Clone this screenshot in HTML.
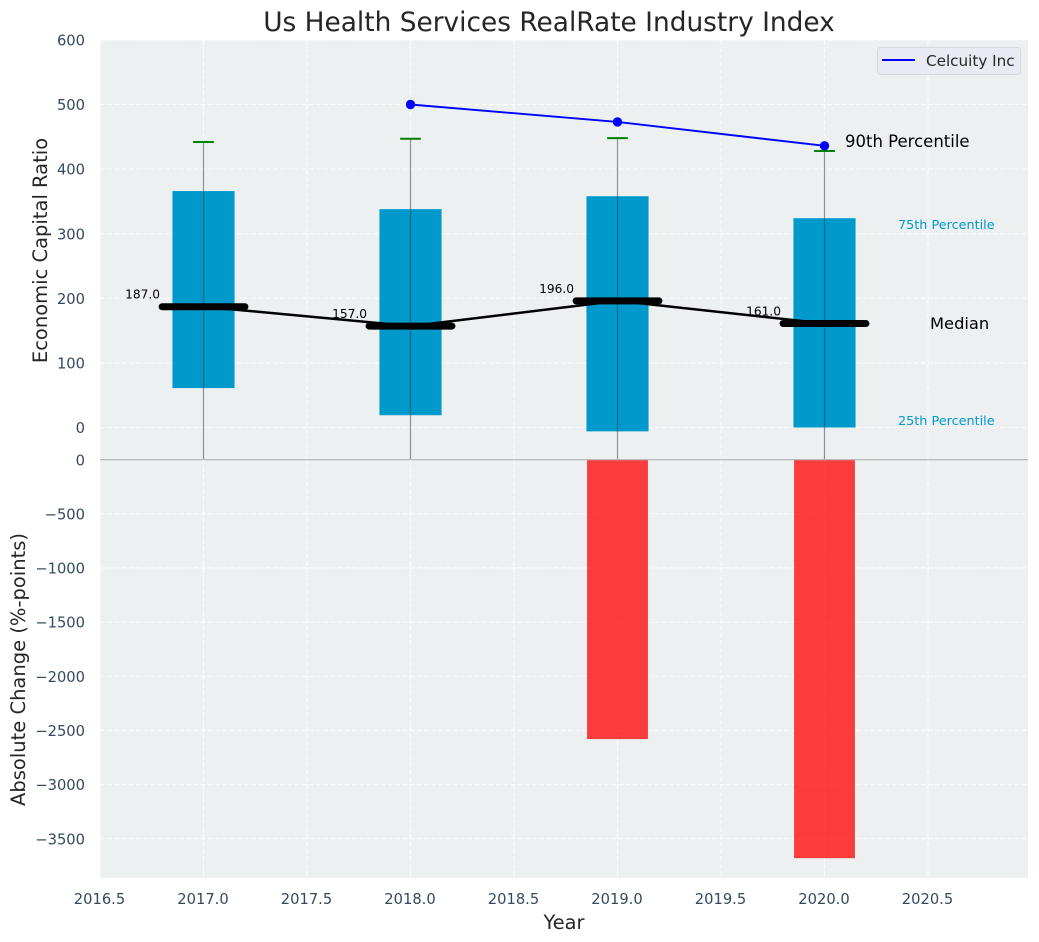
<!DOCTYPE html>
<html lang="en">
<head>
<meta charset="utf-8">
<title>Us Health Services RealRate Industry Index</title>
<style>
html,body{margin:0;padding:0;background:#fff;}
svg{display:block;font-family:"DejaVu Sans","Liberation Sans",sans-serif;}
</style>
</head>
<body>
<svg id="chart" xmlns="http://www.w3.org/2000/svg" width="1039" height="942" viewBox="0 0 1039 942"></svg>
<script>
const years = [2017, 2018, 2019, 2020];
const p90 = [442, 447, 448, 428];
const p75 = [366, 338, 358, 324];
const medians = [187, 157, 196, 161];
const p25 = [61, 19, -6, 0];
const p10 = [-60, -60, -60, -60];
const companyYears = [2018, 2019, 2020];
const companyValues = [500, 473, 436];
const absoluteChange = [0, 0, -2580, -3680];
const xTicks = [2016.5, 2017, 2017.5, 2018, 2018.5, 2019, 2019.5, 2020, 2020.5];
const upperTicks = [0, 100, 200, 300, 400, 500, 600];
const lowerTicks = [0, -500, -1000, -1500, -2000, -2500, -3000, -3500];

const NS = 'http://www.w3.org/2000/svg';
const svg = document.getElementById('chart');
const L = 100, R = 1028, T1 = 40, B1 = 459, T2 = 460, B2 = 878;
const x = v => 100 + (v - 2016.5) * 207;
const yU = v => 427.5 - v * 0.646;
const yL = v => 459.7 - v * 0.10828;

function make(tag, props, parent) {
  const el = document.createElementNS(NS, tag);
  for (const k in props) el.setAttribute(k, props[k]);
  (parent || svg).appendChild(el);
  return el;
}
function label(str, props, parent) {
  const el = make('text', props, parent);
  el.textContent = str;
  return el;
}

const defs = make('defs', {});
const cu = make('clipPath', {id: 'clip-upper'}, defs);
make('rect', {x: L, y: T1, width: R - L, height: B1 - T1}, cu);
const cl = make('clipPath', {id: 'clip-lower'}, defs);
make('rect', {x: L, y: T2, width: R - L, height: B2 - T2}, cl);

const upperBg = make('rect', {x: L, y: T1, width: R - L, height: B1 - T1, fill: '#ecf0f1'});


const lowerBg = make('rect', {x: L, y: T2, width: R - L, height: B2 - T2, fill: '#ecf0f1'});



const upper = make('g', {'clip-path': 'url(#clip-upper)'});


const lower = make('g', {'clip-path': 'url(#clip-lower)'});



const gridStyle = {stroke: '#ffffff', 'stroke-width': 1.1, 'stroke-dasharray': '5 2.2', 'stroke-opacity': 0.8};
xTicks.forEach(t => {
  const g1 = make('line', {x1: x(t), x2: x(t), y1: T1, y2: B1, ...gridStyle}, upper);
  
  
  const g2 = make('line', {x1: x(t), x2: x(t), y1: T2, y2: B2, ...gridStyle}, lower);
  
  
  const tl = label(String(t.toFixed(1)), {x: x(t) - 0.5, y: 904, 'text-anchor': 'middle', 'font-size': 14.7, fill: '#34495e'});
  
  
});
upperTicks.forEach(t => {
  const g = make('line', {x1: L, x2: R, y1: yU(t), y2: yU(t), ...gridStyle}, upper);
  
  
  const tl = label(String(t), {x: 85, y: yU(t) + 5.6, 'text-anchor': 'end', 'font-size': 14.7, fill: '#34495e'});
  
  
});
lowerTicks.forEach(t => {
  const g = make('line', {x1: L, x2: R, y1: yL(t), y2: yL(t), ...gridStyle}, lower);
  
  
  const tl = label(String(t).replace('-', '\u2212'), {x: 85, y: yL(t) + 5.6, 'text-anchor': 'end', 'font-size': 14.7, fill: '#34495e'});
  
  
});

years.forEach((yr, i) => {
  const box = make('rect', {x: x(yr - 0.15), y: yU(p75[i]), width: x(yr + 0.15) - x(yr - 0.15), height: yU(p25[i]) - yU(p75[i]), fill: '#0099cc'}, upper);
  
  
  const whisker = make('line', {x1: x(yr), x2: x(yr), y1: yU(p90[i]), y2: yU(p10[i]), stroke: '#2c3e50', 'stroke-opacity': 0.55, 'stroke-width': 1.2}, upper);
  
  
  const cap = make('line', {x1: x(yr - 0.05), x2: x(yr + 0.05), y1: yU(p90[i]), y2: yU(p90[i]), stroke: '#008000', 'stroke-width': 2}, upper);
  
  
});

const medianLine = make('polyline', {points: years.map((yr, i) => x(yr) + ',' + yU(medians[i])).join(' '), fill: 'none', stroke: '#000', 'stroke-width': 2.5}, upper);



years.forEach((yr, i) => {
  const m = make('line', {x1: x(yr - 0.2), x2: x(yr + 0.2), y1: yU(medians[i]), y2: yU(medians[i]), stroke: '#000', 'stroke-width': 7, 'stroke-linecap': 'round'}, upper);
  
  
  const v = label(medians[i].toFixed(1), {x: x(yr - 0.21), y: yU(medians[i]) - 8, 'text-anchor': 'end', 'font-size': 12.2, fill: '#000'}, upper);
  
  
});

const companyLine = make('polyline', {points: companyYears.map((yr, i) => x(yr) + ',' + yU(companyValues[i])).join(' '), fill: 'none', stroke: '#0000ff', 'stroke-width': 1.9}, upper);


companyYears.forEach((yr, i) => {
  const p = make('circle', {cx: x(yr), cy: yU(companyValues[i]), r: 4.7, fill: '#0000ff'}, upper);
  
  
});

years.forEach((yr, i) => {
  const bar = make('rect', {x: x(yr - 0.147), y: yL(0), width: x(yr + 0.147) - x(yr - 0.147), height: yL(absoluteChange[i]) - yL(0), fill: '#ff0000', 'fill-opacity': 0.75}, lower);
  
  
});

const zero = make('line', {x1: L, x2: R, y1: 459.7, y2: 459.7, stroke: '#b0b0b0', 'stroke-width': 1.2});



const a90 = label('90th Percentile', {x: 845, y: 147, 'font-size': 16.5, fill: '#000'});


const a75 = label('75th Percentile', {x: 898, y: 229, 'font-size': 12.8, fill: '#0099cc'});


const aMed = label('Median', {x: 930, y: 329, 'font-size': 16.3, fill: '#000'});


const a25 = label('25th Percentile', {x: 898, y: 425, 'font-size': 12.8, fill: '#0099cc'});



const legend = make('g', {});


const legendBox = make('rect', {x: 877.5, y: 47.5, width: 143, height: 27, rx: 3, fill: '#eaeaf2', stroke: '#d8d8dc', 'stroke-width': 1}, legend);


const legendLine = make('line', {x1: 882, x2: 915, y1: 60, y2: 60, stroke: '#0000ff', 'stroke-width': 1.9}, legend);


const legendText = label('Celcuity Inc', {x: 926, y: 66, 'font-size': 15.2, fill: '#262626'}, legend);



const title = label('Us Health Services RealRate Industry Index', {x: 549, y: 31, 'text-anchor': 'middle', 'font-size': 26.4, fill: '#262626'});


const xTitle = label('Year', {x: 564, y: 929, 'text-anchor': 'middle', 'font-size': 19.4, fill: '#262626'});


const yTitleU = label('Economic Capital Ratio', {x: 0, y: 0, transform: 'translate(47,250.5) rotate(-90)', 'text-anchor': 'middle', 'font-size': 19.5, fill: '#262626'});


const yTitleL = label('Absolute Change (%-points)', {x: 0, y: 0, transform: 'translate(25,669.5) rotate(-90)', 'text-anchor': 'middle', 'font-size': 19.5, fill: '#262626'});


</script>
</body>
</html>
